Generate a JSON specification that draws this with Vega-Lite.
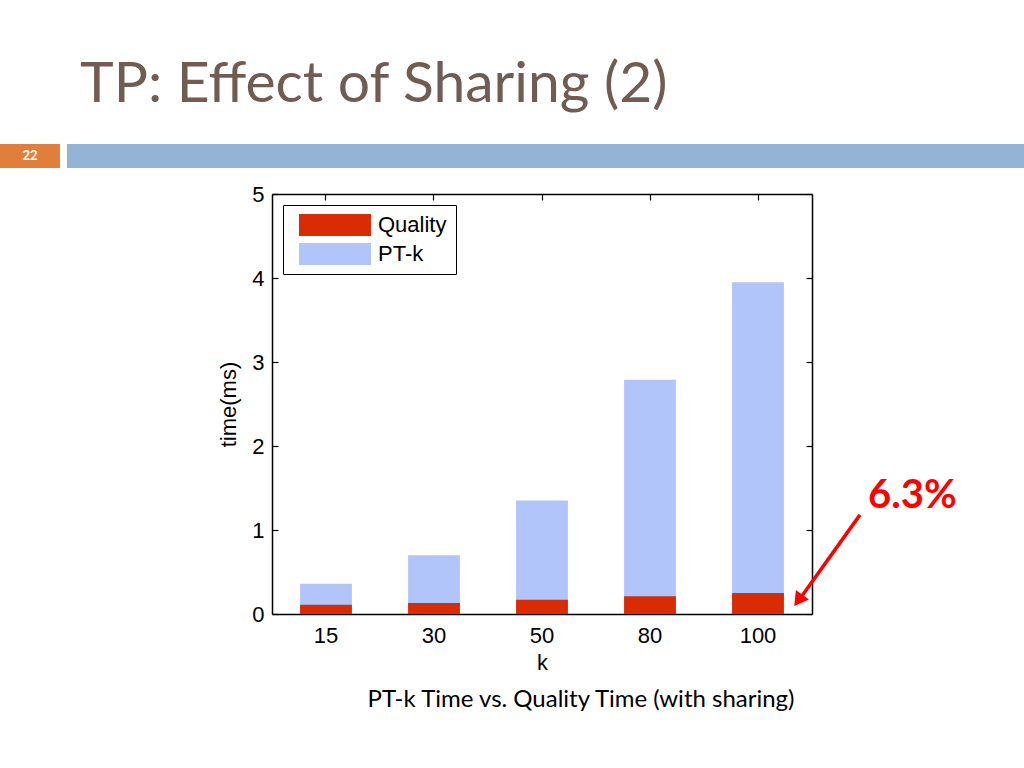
{
  "$schema": "https://vega.github.io/schema/vega-lite/v6.json",
  "background": "white",
  "padding": {"top": 56, "left": 0, "right": 0, "bottom": 0},
  "config": {"view": {"stroke": null}},
  "title": {"text": "TP: Effect of Sharing (2)", "anchor": "start", "font": "Lato", "fontSize": 57, "fontWeight": "normal", "color": "#705c52", "dx": 80, "offset": 30},
  "resolve": {"scale": {"color": "independent"}, "legend": {"color": "independent"}},
  "spacing": 15,
  "vconcat": [
    {
      "hconcat": [
        {"width": 60, "height": 24, "view": {"fill": "#e07f3c", "stroke": null},
         "data": {"values": [{"n": "22"}]},
         "mark": {"type": "text", "color": "white", "font": "Lato", "fontWeight": "bold", "fontSize": 13},
         "encoding": {"text": {"field": "n"}}},
        {"width": 957, "height": 24, "view": {"fill": "#93b4d4", "stroke": null},
         "data": {"values": [{"n": ""}]},
         "mark": {"type": "text"},
         "encoding": {"text": {"field": "n"}}}
      ],
      "spacing": 7
    },
    {
      "resolve": {"scale": {"color": "independent"}, "legend": {"color": "independent"}},
      "hconcat": [
        {"width": 197, "height": 10,
         "data": {"values": [{"n": ""}]},
         "mark": {"type": "text"},
         "encoding": {"text": {"field": "n"}}},
        {
          "width": 540, "height": 420,
          "title": {"text": "PT-k Time vs. Quality Time (with sharing)", "orient": "bottom", "font": "Lato", "fontSize": 24, "fontWeight": "normal", "color": "#000", "offset": 15, "dx": 39},
          "data": {"values": [
            {"k": 15, "series": "PT-k", "time": 0.36},
            {"k": 30, "series": "PT-k", "time": 0.70},
            {"k": 50, "series": "PT-k", "time": 1.35},
            {"k": 80, "series": "PT-k", "time": 2.79},
            {"k": 100, "series": "PT-k", "time": 3.95},
            {"k": 15, "series": "Quality", "time": 0.11},
            {"k": 30, "series": "Quality", "time": 0.13},
            {"k": 50, "series": "Quality", "time": 0.17},
            {"k": 80, "series": "Quality", "time": 0.21},
            {"k": 100, "series": "Quality", "time": 0.25}
          ]},
          "layer": [
            {
              "layer": [
                {
                  "transform": [{"filter": "datum.series === 'PT-k'"}],
                  "mark": {"type": "bar"},
                  "encoding": {
                    "x": {"field": "k", "type": "ordinal", "scale": {"paddingInner": 0.52, "paddingOuter": 0.26},
                          "axis": {"orient": "bottom", "title": "k", "titleFont": "Liberation Sans", "titleFontSize": 22, "titleFontWeight": "normal", "titleColor": "#000", "titlePadding": 6,
                                   "labelFont": "Liberation Sans", "labelFontSize": 22, "labelColor": "#000", "labelAngle": 0, "labelPadding": 17,
                                   "tickSize": -6, "tickColor": "#000", "tickWidth": 1.2, "domainColor": "#000", "domainWidth": 1.5}},
                    "y": {"field": "time", "type": "quantitative", "scale": {"domain": [0, 5]},
                          "axis": {"orient": "left", "title": "time(ms)", "titleFont": "Liberation Sans", "titleFontSize": 22, "titleFontWeight": "normal", "titleColor": "#000", "titlePadding": 11,
                                   "labelFont": "Liberation Sans", "labelFontSize": 22, "labelColor": "#000", "labelPadding": 14, "values": [0, 1, 2, 3, 4, 5], "grid": false,
                                   "tickSize": -6, "tickColor": "#000", "tickWidth": 1.2, "domainColor": "#000", "domainWidth": 1.5}},
                    "color": {"field": "series", "type": "nominal",
                              "scale": {"domain": ["Quality", "PT-k"], "range": ["#d92b04", "#b1c5fb"]},
                              "legend": {"title": null, "orient": "top-left", "offset": 11, "symbolType": "M-0.364,-1H6.182V1H-0.364Z", "symbolSize": 484, "symbolStrokeWidth": 0, "symbolOpacity": 1,
                                         "labelFont": "Liberation Sans", "labelFontSize": 22, "labelColor": "#000", "labelOffset": 64, "rowPadding": 7, "padding": 9,
                                         "strokeColor": "#000", "fillColor": "#fff"}}
                  }
                },
                {
                  "transform": [{"filter": "datum.series === 'Quality'"}],
                  "mark": {"type": "bar"},
                  "encoding": {
                    "x": {"field": "k", "type": "ordinal", "scale": {"paddingInner": 0.52, "paddingOuter": 0.26},
                          "axis": {"orient": "top", "title": null, "labels": false, "tickSize": -6, "tickColor": "#000", "tickWidth": 1.2, "domainColor": "#000", "domainWidth": 1.5}},
                    "y": {"field": "time", "type": "quantitative", "scale": {"domain": [0, 5]},
                          "axis": {"orient": "right", "title": null, "labels": false, "values": [0, 1, 2, 3, 4, 5], "grid": false, "tickSize": -6, "tickColor": "#000", "tickWidth": 1.2, "domainColor": "#000", "domainWidth": 1.5}},
                    "color": {"field": "series", "type": "nominal",
                              "scale": {"domain": ["Quality", "PT-k"], "range": ["#d92b04", "#b1c5fb"]},
                              "legend": {"title": null, "orient": "top-left", "offset": 11, "symbolType": "M-0.364,-1H6.182V1H-0.364Z", "symbolSize": 484, "symbolStrokeWidth": 0, "symbolOpacity": 1,
                                         "labelFont": "Liberation Sans", "labelFontSize": 22, "labelColor": "#000", "labelOffset": 64, "rowPadding": 7, "padding": 9,
                                         "strokeColor": "#000", "fillColor": "#fff"}}
                  }
                }
              ],
              "resolve": {"axis": {"x": "independent", "y": "independent"}}
            },
            {
              "data": {"values": [{"x": 5.444, "y": 1.18, "x2": 4.87, "y2": 0.15}]},
              "mark": {"type": "rule", "color": "#ff0000", "strokeWidth": 3.5, "clip": false},
              "encoding": {
                "x": {"field": "x", "type": "quantitative", "scale": {"domain": [0, 5]}, "axis": null},
                "y": {"field": "y", "type": "quantitative", "axis": null},
                "x2": {"field": "x2"},
                "y2": {"field": "y2"}
              }
            },
            {
              "data": {"values": [{"x": 4.886, "y": 0.185}]},
              "mark": {"type": "point", "shape": "triangle", "filled": true, "color": "#ff0000", "size": 260, "angle": 216, "opacity": 1, "clip": false},
              "encoding": {
                "x": {"field": "x", "type": "quantitative", "scale": {"domain": [0, 5]}, "axis": null},
                "y": {"field": "y", "type": "quantitative", "axis": null}
              }
            },
            {
              "data": {"values": [{"x": 5.93, "y": 1.40, "label": "6.3%"}]},
              "mark": {"type": "text", "color": "#ff0000", "font": "Lato", "fontWeight": "bold", "fontSize": 40, "baseline": "middle", "align": "center", "clip": false},
              "encoding": {
                "x": {"field": "x", "type": "quantitative", "scale": {"domain": [0, 5]}, "axis": null},
                "y": {"field": "y", "type": "quantitative", "axis": null},
                "text": {"field": "label"}
              }
            }
          ],
          "resolve": {"scale": {"x": "independent"}}
        }
      ],
      "spacing": 20
    }
  ]
}
